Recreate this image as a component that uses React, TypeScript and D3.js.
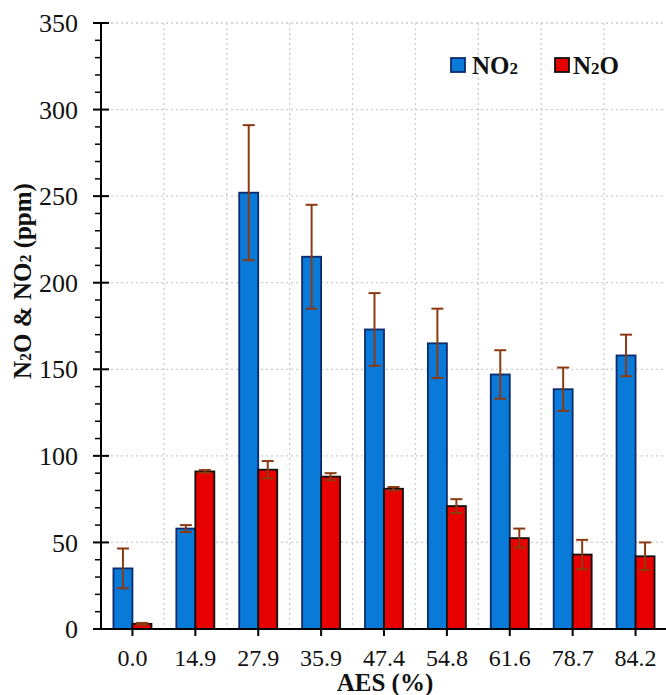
import React from 'react';
import * as d3 from 'd3';

// AES levels on the x axis
const categories = ['0.0', '14.9', '27.9', '35.9', '47.4', '54.8', '61.6', '78.7', '84.2'];
// NO2 means and error (±)
const no2 = [35, 58, 252, 215, 173, 165, 147, 138.5, 158];
const no2Err = [11.5, 2, 39, 30, 21, 20, 14, 12.5, 12];
// N2O means and error (±)
const n2o = [3, 91, 92, 88, 81, 71, 52.5, 43, 42];
const n2oErr = [0.5, 0.8, 5, 2, 1, 4, 5.5, 8.5, 8];
const yTicks = [0, 50, 100, 150, 200, 250, 300, 350];

const W = 666;
const H = 695;
const FONT = '"Liberation Serif", "Times New Roman", serif';

const series = [
  { key: 'NO2', values: no2, errs: no2Err, fill: '#0a7ad8', stroke: '#0d2a6b' },
  { key: 'N2O', values: n2o, errs: n2oErr, fill: '#e60000', stroke: '#111' },
];

export default function App() {
  const x = d3.scaleBand<string>().domain(categories).range([101, 667]).padding(0);
  const y = d3.scaleLinear().domain([0, 350]).range([629, 23]);
  const barW = 19;
  const inner = d3.scaleBand<string>().domain(series.map(s => s.key)).range([-barW, barW]);
  const minor = d3.range(0, 351, 10).filter(v => v % 50 !== 0);
  const errColor = '#8b3a12';

  return (
    <svg width={W} height={H} style={{ position: 'absolute', left: 0, top: 0, background: '#fff' }}
      fontFamily={FONT}>
      {/* grid */}
      {yTicks.slice(1).map(t => (
        <line key={'hg' + t} x1={101} x2={W} y1={y(t)} y2={y(t)}
          stroke="#cccccc" strokeWidth={1.3} strokeDasharray="2,3" />
      ))}
      {categories.map(c => (
        <line key={'vg' + c} x1={x(c)! + x.bandwidth()} x2={x(c)! + x.bandwidth()} y1={y(350)} y2={y(0)}
          stroke="#cccccc" strokeWidth={1.3} strokeDasharray="2,3" />
      ))}

      {/* bars */}
      {series.map(s => (
        <g key={s.key}>
          {categories.map((c, i) => {
            const cx = x(c)! + x.bandwidth() / 2;
            const bx = cx + inner(s.key)!;
            return (
              <rect key={c} x={bx} y={y(s.values[i])} width={barW} height={y(0) - y(s.values[i])}
                fill={s.fill} stroke={s.stroke} strokeWidth={1.8} />
            );
          })}
        </g>
      ))}

      {/* error bars */}
      {series.map(s => (
        <g key={'e' + s.key} stroke={errColor} strokeWidth={2}>
          {categories.map((c, i) => {
            const ex = x(c)! + x.bandwidth() / 2 + inner(s.key)! + barW / 2;
            const hi = y(s.values[i] + s.errs[i]);
            const lo = y(Math.max(0, s.values[i] - s.errs[i]));
            return (
              <g key={c}>
                <line x1={ex} x2={ex} y1={hi} y2={lo} />
                <line x1={ex - 6} x2={ex + 6} y1={hi} y2={hi} />
                <line x1={ex - 6} x2={ex + 6} y1={lo} y2={lo} />
              </g>
            );
          })}
        </g>
      ))}

      {/* y axis */}
      <line x1={101} x2={101} y1={y(350)} y2={y(0)} stroke="#000" strokeWidth={2} />
      {minor.map(t => (
        <line key={'mt' + t} x1={95} x2={101} y1={y(t)} y2={y(t)} stroke="#000" strokeWidth={1.5} />
      ))}
      {yTicks.map(t => (
        <g key={'yt' + t}>
          <line x1={93} x2={109} y1={y(t)} y2={y(t)} stroke="#000" strokeWidth={2} />
          <text x={78} y={y(t)} dy="0.35em" textAnchor="end" fontSize={26} fill="#111">{t}</text>
        </g>
      ))}

      {/* x axis */}
      <line x1={93} x2={W} y1={y(0)} y2={y(0)} stroke="#000" strokeWidth={2} />
      {categories.map(c => {
        const cx = x(c)! + x.bandwidth() / 2;
        return (
          <g key={'xt' + c}>
            <line x1={cx} x2={cx} y1={y(0)} y2={y(0) + 7} stroke="#000" strokeWidth={2} />
            <text x={cx} y={666} textAnchor="middle" fontSize={24} fill="#111">{c}</text>
          </g>
        );
      })}

      {/* axis titles */}
      <text x={385} y={691} textAnchor="middle" fontSize={25} fontWeight="bold" fill="#111">AES (%)</text>
      <text transform="translate(31,281) rotate(-90)" textAnchor="middle" fontSize={25} fontWeight="bold" fill="#111">
        N<tspan fontSize={16}>2</tspan>O &amp; NO<tspan fontSize={16}>2</tspan> (ppm)
      </text>

      {/* legend */}
      <rect x={451} y={58} width={14} height={14} fill={series[0].fill} stroke={series[0].stroke} strokeWidth={1.8} />
      <text x={472} y={74} fontSize={25} fontWeight="bold" fill="#111">
        NO<tspan fontSize={17}>2</tspan>
      </text>
      <rect x={555} y={58} width={14} height={14} fill={series[1].fill} stroke={series[1].stroke} strokeWidth={1.8} />
      <text x={573} y={74} fontSize={25} fontWeight="bold" fill="#111">
        N<tspan fontSize={17}>2</tspan>O
      </text>
    </svg>
  );
}
